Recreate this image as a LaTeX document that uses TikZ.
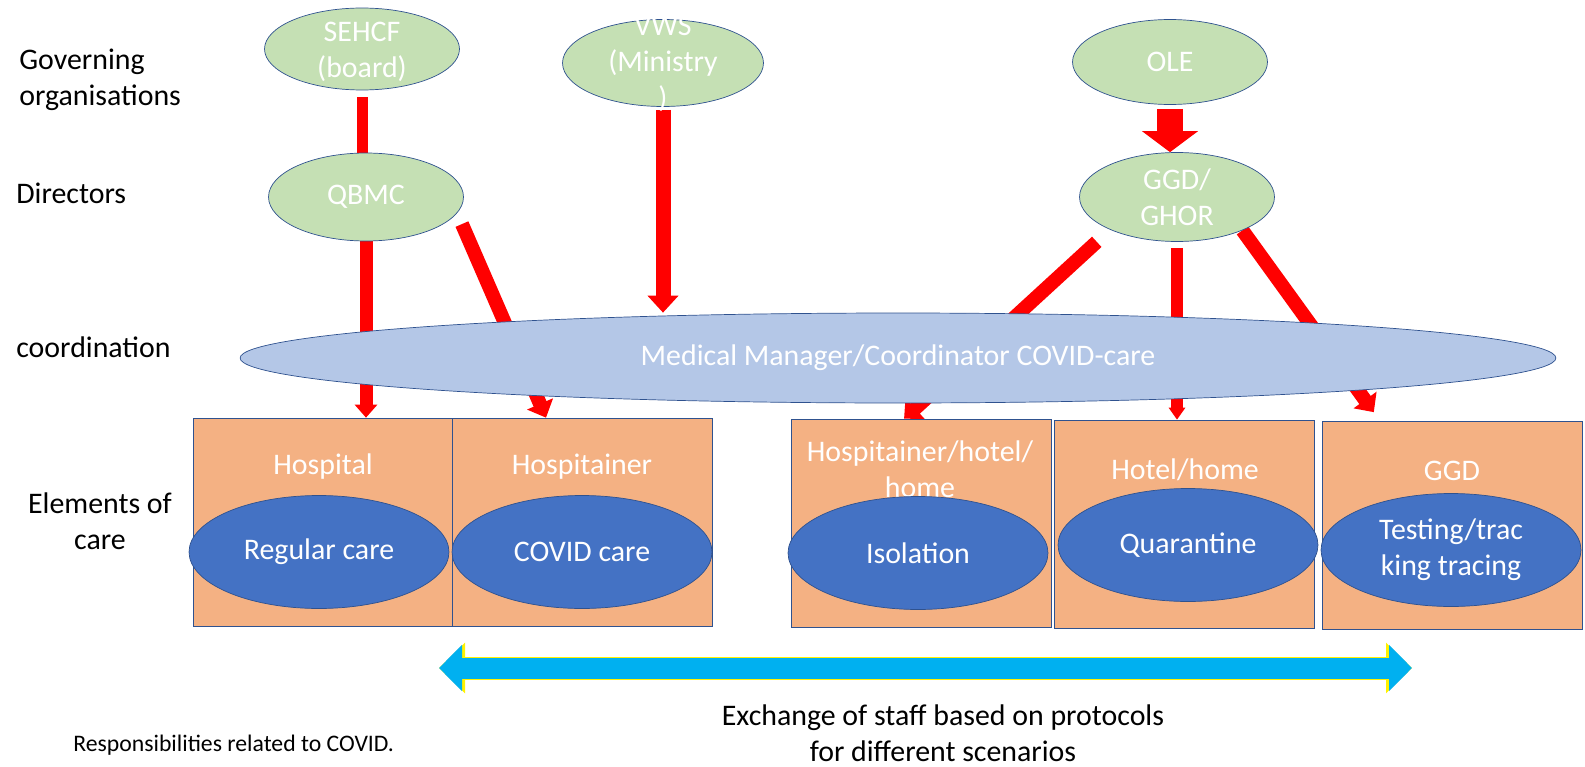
\documentclass[tikz,border=0pt]{standalone}
\usepackage{fontspec}
\setmainfont{Carlito}
\usetikzlibrary{shapes.geometric,arrows.meta,calc,backgrounds}
\definecolor{orgGreen}{HTML}{C5E0B4}
\definecolor{mmcBlue}{HTML}{B4C7E7}
\definecolor{boxOrange}{HTML}{F4B183}
\definecolor{careBlue}{HTML}{4472C4}
\definecolor{edgeBlue}{HTML}{2F528F}
\definecolor{xchCyan}{HTML}{00B0F0}

\begin{document}
\begin{tikzpicture}[x=0.02cm,y=-0.02cm,font=\fontsize{17}{20.5}\selectfont]
        \tikzstyle{org}=[ellipse,draw=edgeBlue,fill=orgGreen,minimum width=3.9cm,minimum height=1.7cm,inner sep=0pt]
        \tikzstyle{box}=[rectangle,draw=edgeBlue,fill=boxOrange,minimum width=5.2cm,minimum height=4.16cm,inner sep=0pt]
        \tikzstyle{care}=[ellipse,draw=edgeBlue,fill=careBlue,text=white,minimum width=5.2cm,minimum height=2.26cm,inner sep=0pt,align=center]
        \tikzstyle{lbl}=[text=white,align=center,inner sep=0pt]
        \tikzstyle{resp}=[draw=red,line width=0.28cm,-{Triangle[width=0.55cm,length=0.3cm]}]
        \useasboundingbox (0,0) rectangle (1585,767);
        % left column
        \node[anchor=west,align=left,inner sep=0pt] (gov) at (19,80) {Governing\\organisations};
        \node[anchor=west,inner sep=0pt] (dir) at (16,193) {Directors};
        \node[anchor=west,inner sep=0pt] (coo) at (16,347) {coordination};
        \node[align=center,inner sep=0pt] (elem) at (100,521) {Elements of\\care};
        % elements of care
        \node[box] (hospital) at (323,522) {};
        \node[box] (hospitainer) at (582.5,522) {};
        \node[box] (isolation) at (921,523) {};
        \node[box] (quarantine) at (1184.5,524) {};
        \node[box] (ggdbox) at (1452,525.5) {};
        \node[lbl] (hospitalT) at (323,467) {Hospital};
        \node[lbl] (hospitainerT) at (582,467) {Hospitainer};
        \node[lbl] (isolationT) at (920,469) {Hospitainer/hotel/\\home};
        \node[lbl] (quarantineT) at (1185,470) {Hotel/home};
        \node[lbl] (ggdboxT) at (1452,471) {GGD};
        \node[care] (regular) at (319,552) {Regular care};
        \node[care] (covid) at (582,552) {COVID care};
        \node[care] (isol) at (918,553) {Isolation};
        \node[care] (quar) at (1188,545) {Quarantine};
        \node[care] (testing) at (1451,550) {Testing/trac\\king tracing};
        % governing organisations and directors
        \node[org,minimum height=1.64cm] (sehcf) at (362,49) {};
        \node[org,minimum width=4.02cm,minimum height=1.74cm] (vws) at (663,63) {};
        \node[org] (ole) at (1170,62) {};
        \node[org,minimum height=1.76cm] (qbmc) at (366,197) {};
        \node[org,minimum height=1.78cm] (ggd) at (1177,197) {};
        \node[lbl] (sehcfT) at (362,52) {SEHCF\\(board)};
        \node[lbl] (vwsT) at (663,64) {VWS\\(Ministry\\)};
        \node[lbl] (oleT) at (1170,62) {OLE};
        \node[lbl] (qbmcT) at (366,197) {QBMC};
        \node[lbl] (ggdT) at (1177,197) {GGD/\\GHOR};
        % coordination
        \node[ellipse,draw=edgeBlue,fill=mmcBlue,text=white,minimum width=26.32cm,minimum height=1.8cm,inner sep=0pt] (mmc) at (898,358) {Medical Manager/Coordinator COVID-care};
        \begin{scope}[on background layer]
        \draw[resp,-,line width=0.22cm,shorten <=0.14cm] (sehcf.south) -- (sehcf.south |- qbmc.north);
        \draw[resp,-{Triangle[width=0.44cm,length=0.26cm]},line width=0.26cm] (qbmc.south) -- (qbmc.south |- hospital.north);
        \draw[resp,shorten <=0.24cm] (qbmc.-10) -- ($(hospitainer.north west)!0.36!(hospitainer.north east)$);
        \draw[resp,-{Triangle[width=0.6cm,length=0.34cm]},line width=0.3cm,shorten <=0.06cm] (vws.south) -- (vws.south |- mmc.north);
        \draw[resp,-{Triangle[width=1.1cm,length=0.42cm]},line width=0.52cm,shorten <=0.08cm] (ole.south) -- (ole.south |- ggd.north);
        \draw[resp,shorten <=0.36cm] (ggd.206) -- ($(isolation.north west)!0.435!(isolation.north east)$);
        \draw[resp,-{Triangle[width=0.32cm,length=0.24cm]},line width=0.24cm,shorten <=0.12cm] (ggd.south) -- (ggd.south |- quarantine.north);
        \draw[resp] (ggd.-27) -- ($(ggdbox.north west)!0.2!(ggdbox.north east)+(0,-9)$);
        \end{scope}
        % exchange of staff
        \coordinate (exL) at (439,668);
        \coordinate (exR) at (1412,668);
        \draw[draw=yellow,line width=0.46cm,{Triangle[width=0.98cm,length=0.52cm]}-{Triangle[width=0.98cm,length=0.52cm]}] (exL) -- (exR);
        \draw[draw=xchCyan,line width=0.42cm,{Triangle[width=0.9cm,length=0.46cm]}-{Triangle[width=0.9cm,length=0.46cm]}] (exL) -- (exR);
        \node[align=center,inner sep=0pt] (exchT) at (943,733) {Exchange of staff based on protocols\\for different scenarios};
        \node[anchor=west,inner sep=0pt,font=\fontsize{13.5}{16}\selectfont] (note) at (73,745) {Responsibilities related to COVID.};
    \end{tikzpicture}
\end{document}
